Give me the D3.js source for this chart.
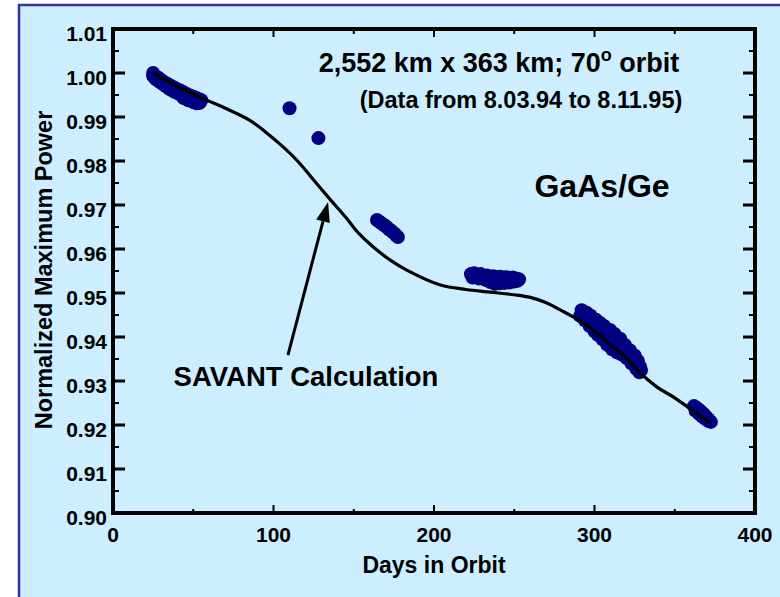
<!DOCTYPE html>
<html>
<head>
<meta charset="utf-8">
<title>GaAs/Ge normalized power</title>
<script src="https://cdn.jsdelivr.net/npm/d3@7"></script>
<style>
body {
  margin: 0px;
  background: #fff;
}
svg text {
  font-family: "Liberation Sans", Arial, sans-serif;
  font-weight: bold;
  fill: #000;
}
.curve {
  fill: none;
  stroke: #000;
  stroke-width: 3.2px;
}
.dot {
  fill: #000080;
}
</style>
</head>
<body>
<script>

var width = 780, height = 597;

// SAVANT calculation (days in orbit, normalized Pmax)
var calcDays = [25, 40, 58, 70, 85, 95, 106, 115, 125, 135, 145, 153, 162, 173, 183, 204, 220, 235, 250, 260, 270, 279, 287, 299, 310, 320, 328, 339, 349, 360, 372];
var calcPower = [1.000, 0.9970, 0.9939, 0.9920, 0.9893, 0.9866, 0.9832, 0.9800, 0.9757, 0.9714, 0.9672, 0.9636, 0.9605, 0.9574, 0.9552, 0.9518, 0.9508, 0.9502, 0.9496, 0.9490, 0.9478, 0.9461, 0.9445, 0.9416, 0.9382, 0.9352, 0.9320, 0.9286, 0.9264, 0.9236, 0.9205];

// flight data, one pair of arrays per pass
var days1 = [25, 25, 26, 27, 28, 29, 30, 31, 32, 33, 34, 35, 36, 37, 38, 39, 40, 41, 42, 43, 44, 45, 46, 47, 48, 49, 50, 51, 52, 53, 54, 55, 44, 47, 50, 52, 54];
var power1 = [1.0000, 0.9993, 0.9989, 0.9985, 0.9990, 0.9980, 0.9984, 0.9975, 0.9979, 0.9970, 0.9975, 0.9964, 0.9971, 0.9960, 0.9967, 0.9956, 0.9963, 0.9953, 0.9960, 0.9950, 0.9956, 0.9946, 0.9952, 0.9943, 0.9949, 0.9940, 0.9946, 0.9937, 0.9943, 0.9936, 0.9940, 0.9938, 0.9943, 0.9938, 0.9934, 0.9931, 0.9932];

var days2 = [110, 128];
var power2 = [0.9920, 0.9852];

var days3 = [164.5, 166, 167.5, 169, 170.5, 172, 173.5, 175, 176.5, 177.5];
var power3 = [0.9666, 0.9662, 0.9658, 0.9654, 0.9650, 0.9645, 0.9641, 0.9636, 0.9631, 0.9627];

var days4 = [223, 225, 227, 229, 231, 233, 235, 237, 239, 241, 243, 245, 247, 249, 251, 253, 224, 228, 232, 235, 238, 241, 244, 247, 250, 252];
var power4 = [0.9543, 0.9545, 0.9541, 0.9543, 0.9539, 0.9540, 0.9537, 0.9538, 0.9535, 0.9537, 0.9535, 0.9536, 0.9534, 0.9535, 0.9533, 0.9531, 0.9535, 0.9533, 0.9530, 0.9525, 0.9521, 0.9522, 0.9523, 0.9524, 0.9526, 0.9528];

var days5 = [292, 295, 297.5, 301, 303.5, 306, 309.7, 312.5, 316, 319, 322, 325, 327, 328.3,
  291, 294, 297, 300, 302, 305, 308, 311, 314, 317, 320, 323, 326, 328,
  298, 304, 310, 316, 322, 326, 329];
var power5 = [0.9461, 0.9455, 0.9449, 0.9439, 0.9432, 0.9425, 0.9416, 0.9407, 0.9396, 0.9382, 0.9370, 0.9358, 0.9346, 0.9333,
  0.9448, 0.9438, 0.9425, 0.9413, 0.9405, 0.9395, 0.9382, 0.9372, 0.9365, 0.9360, 0.9352, 0.9340, 0.9328, 0.9320,
  0.9437, 0.9415, 0.9398, 0.9378, 0.9356, 0.9338, 0.9325];

var days6 = [362, 363.5, 365, 366.5, 368, 369.5, 371, 372.5, 363, 365, 367, 369, 371];
var power6 = [0.9243, 0.9239, 0.9235, 0.9230, 0.9225, 0.9219, 0.9213, 0.9207, 0.9232, 0.9226, 0.9220, 0.9214, 0.9209];

var xTicks = [0, 100, 200, 300, 400];
var yTicks = [0.90, 0.91, 0.92, 0.93, 0.94, 0.95, 0.96, 0.97, 0.98, 0.99, 1.00, 1.01];

var svg = d3.select("body").append("svg")
    .attr("width", width)
    .attr("height", height);

// light blue panel with navy frame
svg.append("rect")
    .attr("x", 19).attr("y", 5)
    .attr("width", 800).attr("height", 640)
    .attr("fill", "#cceeff")
    .attr("stroke", "#333399")
    .attr("stroke-width", 2.5);

var x = d3.scaleLinear().domain([0, 400]).range([113, 755]);
var y = d3.scaleLinear().domain([0.90, 1.01]).range([513, 29]);

var minorX = d3.range(0, 401, 50);
var minorY = d3.range(0, 23).map(function(i) { return 0.90 + i * 0.005; });

function isMajorX(d) { return d % 100 === 0; }
function isMajorY(d) { return Math.round(d * 1000) % 10 === 0; }

var axes = svg.append("g");

// ticks, all pointing inward
axes.selectAll("line.xb")
    .data(minorX.slice(1, -1))
  .enter().append("line")
    .attr("x1", x).attr("x2", x)
    .attr("y1", 513)
    .attr("y2", function(d) { return isMajorX(d) ? 505 : 509; })
    .attr("stroke", "#000").attr("stroke-width", 2);

axes.selectAll("line.xt")
    .data(minorX.slice(1, -1))
  .enter().append("line")
    .attr("x1", x).attr("x2", x)
    .attr("y1", 29)
    .attr("y2", function(d) { return isMajorX(d) ? 37 : 34; })
    .attr("stroke", "#000").attr("stroke-width", 2);

axes.selectAll("line.yl")
    .data(minorY.slice(1, -1))
  .enter().append("line")
    .attr("y1", y).attr("y2", y)
    .attr("x1", 113)
    .attr("x2", function(d) { return isMajorY(d) ? 125 : 119; })
    .attr("stroke", "#000")
    .attr("stroke-width", function(d) { return isMajorY(d) ? 3 : 2; });

axes.selectAll("line.yr")
    .data(minorY.slice(1, -1))
  .enter().append("line")
    .attr("y1", y).attr("y2", y)
    .attr("x1", 755)
    .attr("x2", function(d) { return isMajorY(d) ? 743 : 749; })
    .attr("stroke", "#000")
    .attr("stroke-width", function(d) { return isMajorY(d) ? 3 : 2; });

// frame
axes.append("rect")
    .attr("x", 113).attr("y", 29)
    .attr("width", 642).attr("height", 484)
    .attr("fill", "none")
    .attr("stroke", "#000")
    .attr("stroke-width", 4);

// tick labels
axes.selectAll("text.xl")
    .data(xTicks)
  .enter().append("text")
    .attr("x", x)
    .attr("y", 542)
    .attr("text-anchor", "middle")
    .style("font-size", "21px")
    .text(function(d) { return d; });

axes.selectAll("text.yl")
    .data(yTicks)
  .enter().append("text")
    .attr("x", 107)
    .attr("y", function(d) { return y(d) + 12; })
    .attr("text-anchor", "end")
    .style("font-size", "21px")
    .text(d3.format(".2f"));

svg.append("text")
    .attr("x", 434).attr("y", 573)
    .attr("text-anchor", "middle")
    .style("font-size", "23px")
    .text("Days in Orbit");

svg.append("text")
    .attr("transform", "translate(52,270) rotate(-90)")
    .attr("text-anchor", "middle")
    .style("font-size", "23.5px")
    .text("Normalized Maximum Power");

// flight data
var passes = [[days1, power1], [days2, power2], [days3, power3], [days4, power4], [days5, power5], [days6, power6]];
var dots = svg.append("g");
passes.forEach(function(p) {
  dots.selectAll(null)
      .data(p[0])
    .enter().append("circle")
      .attr("class", "dot")
      .attr("cx", function(d) { return x(d); })
      .attr("cy", function(d, i) { return y(p[1][i]); })
      .attr("r", 7);
});

// calculation curve
var line = d3.line()
    .x(function(d) { return x(d); })
    .y(function(d, i) { return y(calcPower[i]); })
    .curve(d3.curveCatmullRom);

svg.append("path")
    .datum(calcDays)
    .attr("class", "curve")
    .attr("d", line);

// annotation
svg.append("text")
    .attr("x", 499).attr("y", 72)
    .attr("text-anchor", "middle")
    .style("font-size", "27px")
    .text("2,552 km x 363 km; 70")
  .append("tspan")
    .attr("dy", -11)
    .style("font-size", "18px")
    .text("o")
  .select(function() { return this.parentNode; })
  .append("tspan")
    .attr("dy", 11)
    .text(" orbit");

svg.append("text")
    .attr("x", 521).attr("y", 108)
    .attr("text-anchor", "middle")
    .style("font-size", "23.5px")
    .text("(Data from 8.03.94 to 8.11.95)");

svg.append("text")
    .attr("x", 602).attr("y", 197)
    .attr("text-anchor", "middle")
    .style("font-size", "32px")
    .text("GaAs/Ge");

svg.append("text")
    .attr("x", 306).attr("y", 386)
    .attr("text-anchor", "middle")
    .style("font-size", "27.5px")
    .text("SAVANT Calculation");

// arrow from label to curve
var tail = [x(109), y(0.9359)], tip = [x(134), y(0.9707)];
var ang = Math.atan2(tip[1] - tail[1], tip[0] - tail[0]);
var hl = 20, hw = 7;
var base = [tip[0] - hl * Math.cos(ang), tip[1] - hl * Math.sin(ang)];

svg.append("line")
    .attr("x1", tail[0]).attr("y1", tail[1])
    .attr("x2", base[0]).attr("y2", base[1])
    .attr("stroke", "#000").attr("stroke-width", 3);

svg.append("path")
    .attr("d", "M" + tip[0] + "," + tip[1] +
      "L" + (base[0] + hw * Math.sin(ang)) + "," + (base[1] - hw * Math.cos(ang)) +
      "L" + (base[0] - hw * Math.sin(ang)) + "," + (base[1] + hw * Math.cos(ang)) + "Z")
    .attr("fill", "#000");

</script>
</body>
</html>
